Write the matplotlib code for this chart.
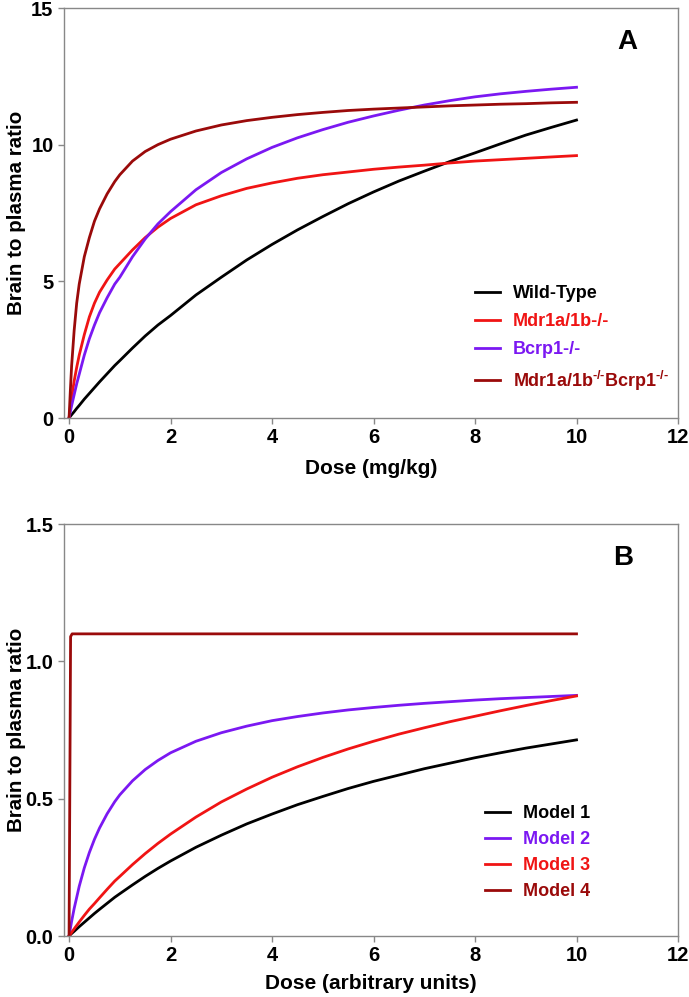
import matplotlib
matplotlib.use("Agg")
import matplotlib.pyplot as plt

plt.rcParams['font.family'] = ['Liberation Sans', 'DejaVu Sans']
plt.rcParams['font.weight'] = 'bold'
plt.rcParams['mathtext.fontset'] = 'custom'
plt.rcParams['mathtext.rm'] = 'Liberation Sans:bold'
plt.rcParams['mathtext.bf'] = 'Liberation Sans:bold'
plt.rcParams['mathtext.it'] = 'Liberation Sans:bold'

# ---------------- Panel A data ----------------
dose_a = [0, 0.025, 0.05, 0.1, 0.15, 0.2, 0.3, 0.4, 0.5, 0.6, 0.75, 0.9, 1, 1.25, 1.5, 1.75,
          2, 2.5, 3, 3.5, 4, 4.5, 5, 5.5, 6, 6.5, 7, 7.5, 8, 8.5, 9, 9.5, 10]
wild_type = [0, 0.06, 0.12, 0.23, 0.35, 0.46, 0.69, 0.9, 1.11, 1.32, 1.62, 1.92, 2.1, 2.56, 3.0, 3.4,
             3.75, 4.5, 5.15, 5.78, 6.35, 6.88, 7.37, 7.84, 8.27, 8.67, 9.03, 9.38, 9.7, 10.03, 10.35, 10.63, 10.9]
mdr1 = [0, 0.4, 0.75, 1.35, 1.85, 2.3, 3.05, 3.7, 4.2, 4.6, 5.05, 5.45, 5.65, 6.15, 6.6, 6.98,
        7.3, 7.8, 8.13, 8.4, 8.6, 8.77, 8.9, 9.0, 9.1, 9.18, 9.25, 9.33, 9.4, 9.45, 9.5, 9.55, 9.6]
bcrp1 = [0, 0.23, 0.45, 0.85, 1.25, 1.6, 2.3, 2.9, 3.4, 3.85, 4.4, 4.9, 5.15, 5.9, 6.55, 7.1,
         7.55, 8.35, 8.98, 9.48, 9.9, 10.25, 10.55, 10.82, 11.05, 11.26, 11.45, 11.61, 11.75, 11.86, 11.95, 12.03, 12.1]
double_ko = [0, 1.0, 1.9, 3.2, 4.2, 4.9, 5.9, 6.6, 7.2, 7.65, 8.2, 8.65, 8.9, 9.4, 9.75, 10.0,
             10.2, 10.5, 10.72, 10.88, 11.0, 11.1, 11.18, 11.25, 11.3, 11.34, 11.38, 11.42, 11.45, 11.48, 11.5, 11.53, 11.55]
labels_a = ['Wild-Type', 'Mdr1a/1b-/-', 'Bcrp1-/-',
            r'Mdr1a/1b$^{\text{-/-}}$Bcrp1$^{\text{-/-}}$']

# ---------------- Panel B data ----------------
dose_b = [0, 0.05, 0.1, 0.2, 0.3, 0.4, 0.5, 0.6, 0.75, 0.9, 1, 1.25, 1.5, 1.75, 2, 2.5, 3, 3.5,
          4, 4.5, 5, 5.5, 6, 6.5, 7, 7.5, 8, 8.5, 9, 9.5, 10]
model1 = [0, 0.009, 0.017, 0.034, 0.05, 0.066, 0.082, 0.097, 0.119, 0.141, 0.154, 0.186, 0.217, 0.246,
          0.273, 0.323, 0.367, 0.408, 0.444, 0.478, 0.508, 0.537, 0.563, 0.586, 0.609, 0.629, 0.649,
          0.667, 0.684, 0.699, 0.714]
model2 = [0, 0.053, 0.1, 0.181, 0.248, 0.304, 0.352, 0.393, 0.445, 0.489, 0.514, 0.565, 0.606, 0.639,
          0.667, 0.709, 0.74, 0.764, 0.784, 0.799, 0.812, 0.823, 0.832, 0.84, 0.847, 0.853, 0.859,
          0.864, 0.868, 0.872, 0.876]
model3 = [0, 0.013, 0.026, 0.051, 0.075, 0.098, 0.118, 0.139, 0.17, 0.2, 0.217, 0.26, 0.3, 0.337,
          0.371, 0.433, 0.488, 0.535, 0.578, 0.616, 0.65, 0.681, 0.709, 0.735, 0.758, 0.78, 0.8,
          0.82, 0.839, 0.857, 0.874]
dose_b4 = [0, 0.03, 0.06, 10]
model4 = [0, 1.09, 1.1, 1.1]
labels_b = ['Model 1', 'Model 2', 'Model 3', 'Model 4']

c_black = '#000000'
c_red = '#f01414'
c_purple = '#7b18f2'
c_dark = '#9a0a0a'
gray = '#888888'

fig = plt.figure(figsize=(6.89, 9.97), dpi=100)
axA = fig.add_axes([64/689, 1-418/997, (678-64)/689, (418-8)/997])
axB = fig.add_axes([64/689, 1-936/997, (678-64)/689, (936-524)/997])

lw = 2.0

def style(ax):
    for s in ax.spines.values():
        s.set_color(gray)
        s.set_linewidth(1.0)
    ax.tick_params(direction='out', length=4.5, width=1.0, color=gray,
                   labelsize=14.5, pad=3)
    for t in ax.get_xticklabels() + ax.get_yticklabels():
        t.set_fontweight('bold')
    ax.yaxis.set_label_coords(-0.062, 0.5)

# Panel A
axA.plot(dose_a, wild_type, color=c_black, lw=lw, label=labels_a[0])
axA.plot(dose_a, mdr1, color=c_red, lw=lw, label=labels_a[1])
axA.plot(dose_a, bcrp1, color=c_purple, lw=lw, label=labels_a[2])
axA.plot(dose_a, double_ko, color=c_dark, lw=lw, label=labels_a[3])
axA.set_xlim(-0.1, 12)
axA.set_ylim(0, 15)
axA.set_xticks([0, 2, 4, 6, 8, 10, 12])
axA.set_yticks([0, 5, 10, 15])
axA.set_xlabel('Dose (mg/kg)', fontsize=15, fontweight='bold', labelpad=8)
axA.set_ylabel('Brain to plasma ratio', fontsize=14.8, fontweight='bold')
style(axA)
legA = axA.legend(loc='upper left', bbox_to_anchor=(0.669, 0.324), frameon=False,
                  fontsize=13, handlelength=1.4, handletextpad=0.7,
                  labelspacing=0.6, borderaxespad=0, borderpad=0)
for txt, col in zip(legA.get_texts(), [c_black, c_red, c_purple, c_dark]):
    txt.set_color(col)
    txt.set_fontweight('bold')
fig.text(627/689, 1-42/997, 'A', fontsize=20, fontweight='bold',
         ha='center', va='center')

# Panel B
axB.plot(dose_b, model1, color=c_black, lw=lw, label=labels_b[0])
axB.plot(dose_b, model2, color=c_purple, lw=lw, label=labels_b[1])
axB.plot(dose_b, model3, color=c_red, lw=lw, label=labels_b[2])
axB.plot(dose_b4, model4, color=c_dark, lw=lw, label=labels_b[3])
axB.set_xlim(-0.1, 12)
axB.set_ylim(0, 1.5)
axB.set_xticks([0, 2, 4, 6, 8, 10, 12])
axB.set_yticks([0.0, 0.5, 1.0, 1.5])
axB.set_yticklabels(['0.0', '0.5', '1.0', '1.5'])
axB.set_xlabel('Dose (arbitrary units)', fontsize=15, fontweight='bold', labelpad=6)
axB.set_ylabel('Brain to plasma ratio', fontsize=14.8, fontweight='bold')
style(axB)
legB = axB.legend(loc='upper left', bbox_to_anchor=(0.686, 0.318), frameon=False,
                  fontsize=13, handlelength=1.4, handletextpad=0.7,
                  labelspacing=0.5, borderaxespad=0, borderpad=0)
for txt, col in zip(legB.get_texts(), [c_black, c_purple, c_red, c_dark]):
    txt.set_color(col)
    txt.set_fontweight('bold')
fig.text(623/689, 1-558/997, 'B', fontsize=20, fontweight='bold',
         ha='center', va='center')

fig.savefig('out.png', dpi=100)
